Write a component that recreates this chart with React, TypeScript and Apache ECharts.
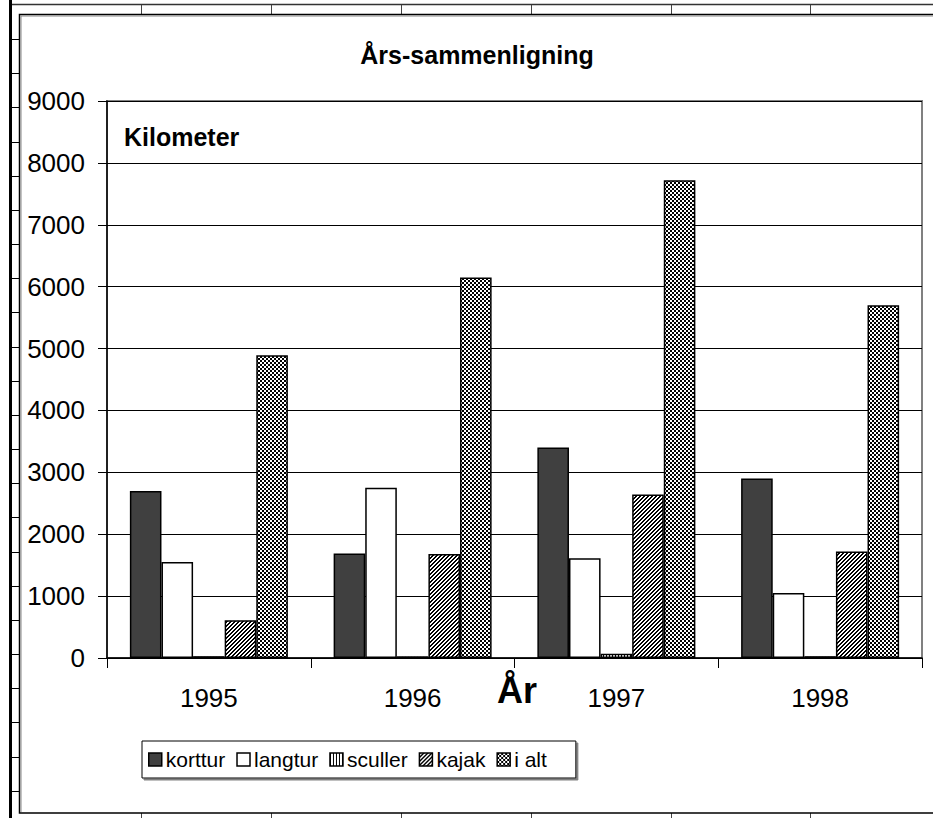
import React, { useEffect, useRef } from "react";
import * as echarts from "echarts";

const categories = ["1995", "1996", "1997", "1998"];
const seriesNames = ["korttur", "langtur", "sculler", "kajak", "i alt"];
const korttur = [2700, 1690, 3400, 2900];
const langtur = [1550, 2750, 1610, 1050];
const sculler = [30, 30, 70, 30];
const kajak = [610, 1680, 2640, 1720];
const iAlt = [4890, 6150, 7720, 5700];
const yMin = 0;
const yMax = 9000;
const yStep = 1000;

const FONT = "'Liberation Sans', Arial, sans-serif";

function makePattern(w: number, h: number, on: (x: number, y: number) => boolean) {
  const c = document.createElement("canvas");
  c.width = w;
  c.height = h;
  const ctx = c.getContext("2d")!;
  ctx.fillStyle = "#ffffff";
  ctx.fillRect(0, 0, w, h);
  ctx.fillStyle = "#000000";
  for (let y = 0; y < h; y++) {
    for (let x = 0; x < w; x++) {
      if (on(x, y)) ctx.fillRect(x, y, 1, 1);
    }
  }
  return { image: c.toDataURL(), repeat: "repeat", imageWidth: w, imageHeight: h } as any;
}

export default function App() {
  const ref = useRef<HTMLDivElement>(null);
  useEffect(() => {
    document.body.style.margin = "0";
    const chart = echarts.init(ref.current!, null, { renderer: "svg" });

    const scullerPat = makePattern(3, 3, (x) => x === 0);
    const kajakPat = makePattern(4, 4, (x, y) => (x + y) % 4 === 3 || (x + y) % 4 === 0);
    const iAltPat = makePattern(4, 4, (x, y) => (Math.floor(x / 2) + Math.floor(y / 2)) % 2 === 0);

    const colors = ["#404040", "#ffffff", scullerPat, kajakPat, iAltPat];
    const values = [korttur, langtur, sculler, kajak, iAlt];

    const deco: any[] = [];
    // spreadsheet background lines
    deco.push({ type: "rect", silent: true, shape: { x: 9, y: 0, width: 3, height: 818 }, style: { fill: "#000" } });
    deco.push({ type: "line", silent: true, shape: { x1: 12, y1: 4.5, x2: 933, y2: 4.5 }, style: { stroke: "#333", lineWidth: 1.5 } });
    [141, 271, 401, 531, 671, 810].forEach((x) => {
      deco.push({ type: "line", silent: true, shape: { x1: x + 0.5, y1: 5, x2: x + 0.5, y2: 14 }, style: { stroke: "#444", lineWidth: 1 } });
      deco.push({ type: "line", silent: true, shape: { x1: x + 0.5, y1: 813, x2: x + 0.5, y2: 818 }, style: { stroke: "#444", lineWidth: 1 } });
    });
    for (let i = 0; i < 23; i++) {
      const y = Math.round(39 + i * 34.17) + 0.5;
      deco.push({ type: "line", silent: true, shape: { x1: 12, y1: y, x2: 19, y2: y }, style: { stroke: "#000", lineWidth: 1 } });
    }
    // chart area border
    deco.push({ type: "rect", silent: true, shape: { x: 19.5, y: 14.5, width: 940, height: 798.5 }, style: { fill: "none", stroke: "#000", lineWidth: 1.5 } });
    deco.push({ type: "line", silent: true, shape: { x1: 21, y1: 16, x2: 21, y2: 812 }, style: { stroke: "#888", lineWidth: 1 } });
    deco.push({ type: "line", silent: true, shape: { x1: 21, y1: 16, x2: 933, y2: 16 }, style: { stroke: "#888", lineWidth: 1 } });
    // texts
    deco.push({ type: "text", x: 477, y: 55, style: { text: "Års-sammenligning", font: `bold 25px ${FONT}`, fill: "#000", align: "center", verticalAlign: "middle" } });
    deco.push({ type: "text", x: 124, y: 137, style: { text: "Kilometer", font: `bold 25px ${FONT}`, fill: "#000", align: "left", verticalAlign: "middle" } });
    deco.push({ type: "text", x: 517, y: 690, style: { text: "År", font: `bold 36px ${FONT}`, fill: "#000", align: "center", verticalAlign: "middle" } });

    chart.setOption({
      animation: false,
      backgroundColor: "#ffffff",
      textStyle: { fontFamily: FONT },
      grid: { left: 107, right: 11, top: 101, bottom: 160, show: true, borderColor: "#808080", borderWidth: 2, backgroundColor: "transparent" },
      legend: {
        left: 142,
        top: 741,
        orient: "horizontal",
        itemWidth: 13,
        itemHeight: 13,
        itemGap: 11,
        padding: [8, 29, 8, 6],
        borderColor: "#000",
        borderWidth: 1,
        backgroundColor: "#fff",
        shadowColor: "#808080",
        shadowOffsetX: 2,
        shadowOffsetY: 2,
        icon: "rect",
        textStyle: { fontSize: 21, color: "#000", fontFamily: FONT, padding: [0, 0, 0, -1] },
        itemStyle: { borderColor: "#000", borderWidth: 1.5 },
        data: seriesNames,
      },
      xAxis: {
        type: "category",
        data: categories,
        axisLine: { lineStyle: { color: "#000", width: 1.5 } },
        axisTick: { show: true, length: 10, alignWithLabel: false, lineStyle: { color: "#000", width: 1 } },
        axisLabel: { fontSize: 26, color: "#000", margin: 27, fontFamily: FONT },
        splitLine: { show: false },
      },
      yAxis: {
        type: "value",
        min: yMin,
        max: yMax,
        interval: yStep,
        axisLine: { show: true, lineStyle: { color: "#000", width: 1.5 } },
        axisTick: { show: true, length: 9, lineStyle: { color: "#000", width: 1 } },
        axisLabel: { fontSize: 26, color: "#000", margin: 22, fontFamily: FONT, formatter: (v: number) => String(v) },
        splitLine: { show: true, lineStyle: { color: "#000", width: 1 } },
      },
      series: seriesNames.map((name, i) => ({
        name,
        type: "bar",
        data: values[i],
        barWidth: 31.6,
        barGap: "0%",
        itemStyle: { color: colors[i], borderColor: "#000", borderWidth: 1.5 },
        emphasis: { disabled: true },
      })),
      graphic: deco,
    });
    return () => chart.dispose();
  }, []);
  return <div ref={ref} style={{ position: "fixed", left: 0, top: 0, width: 933, height: 818, background: "#fff" }} />;
}
